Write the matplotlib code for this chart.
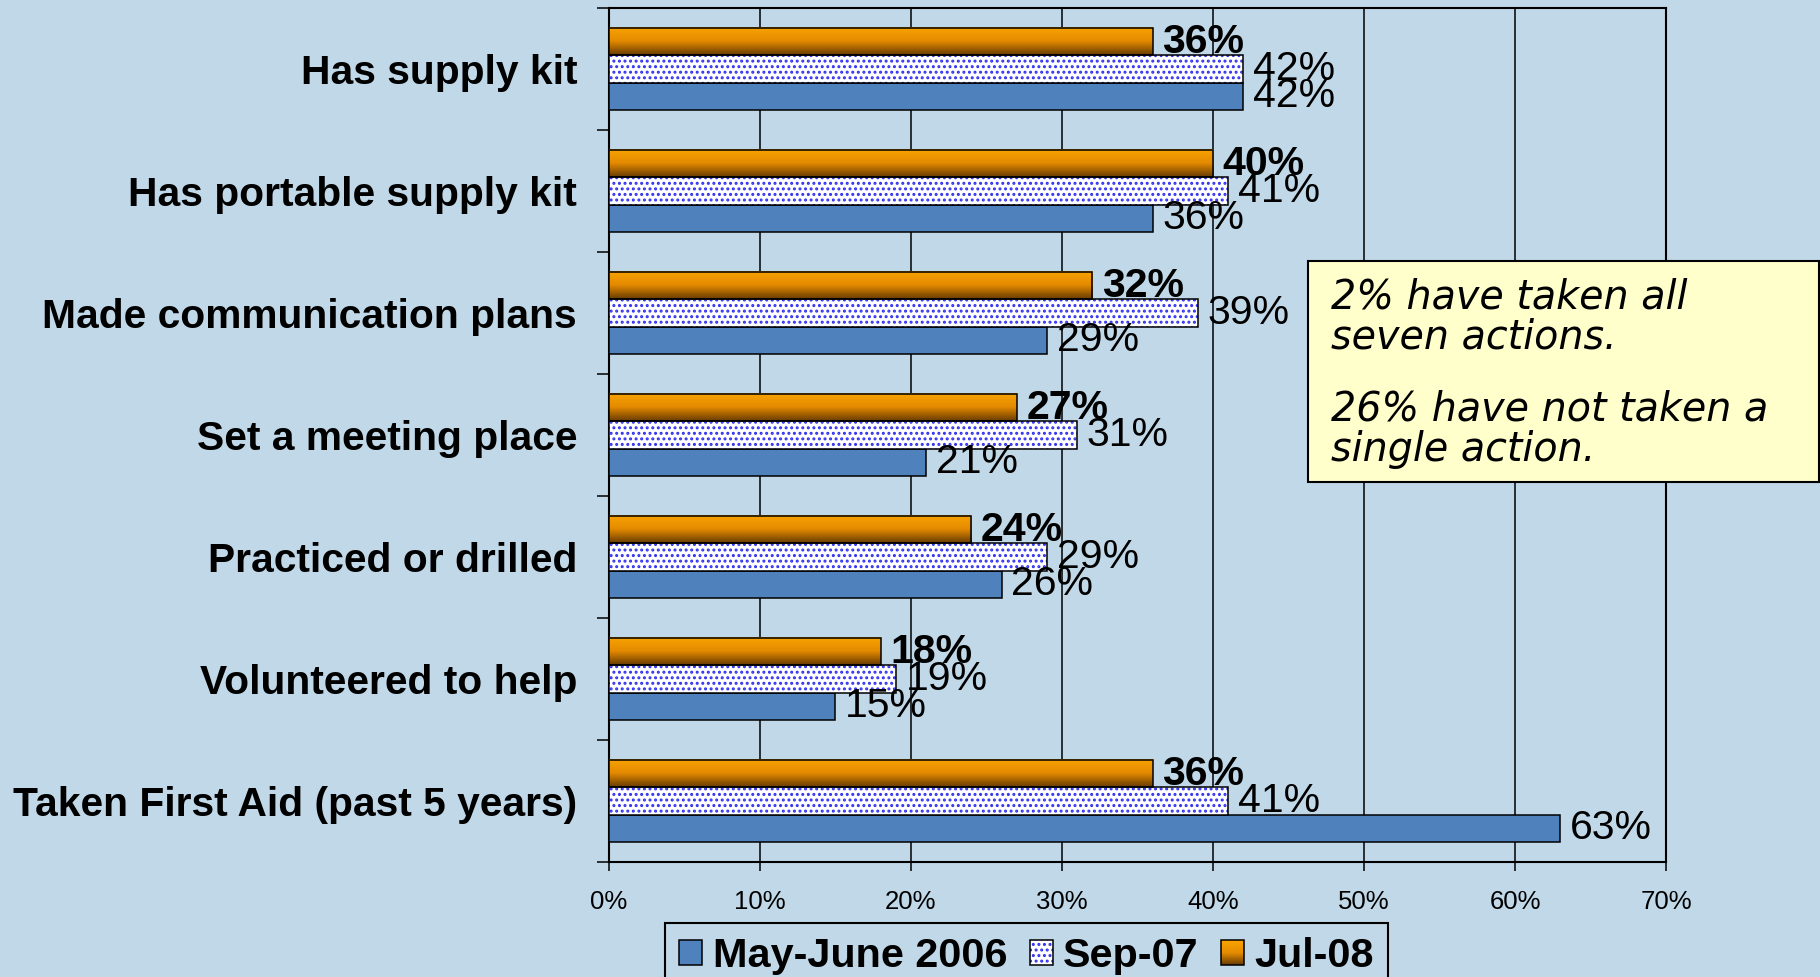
import numpy as np
import matplotlib.pyplot as plt
from matplotlib.patches import Rectangle, Patch
from matplotlib.legend_handler import HandlerBase
from matplotlib.colors import LinearSegmentedColormap

plt.rcParams['font.family'] = ['Liberation Sans', 'DejaVu Sans']
plt.rcParams['hatch.linewidth'] = 1.4

categories = ["Has supply kit", "Has portable supply kit", "Made communication plans",
              "Set a meeting place", "Practiced or drilled", "Volunteered to help",
              "Taken First Aid (past 5 years)"]
may06 = [42, 36, 29, 21, 26, 15, 63]
sep07 = [42, 41, 39, 31, 29, 19, 41]
jul08 = [36, 40, 32, 27, 24, 18, 36]
series_names = ["May-June 2006", "Sep-07", "Jul-08"]
x_ticks = [0, 10, 20, 30, 40, 50, 60, 70]
note_lines = ["2% have taken all\nseven actions.", "26% have not taken a\nsingle action."]

bg = '#C1D8E8'
blue = '#4F81BD'
dot_blue = '#3030F0'
orange_cmap = LinearSegmentedColormap.from_list('org', ['#F9A300', '#E38A00', '#6A3C00'])


class GradientKey:
    pass


class GradientHandler(HandlerBase):
    # legend swatch with the same vertical orange gradient
    def create_artists(self, legend, orig_handle, xdescent, ydescent,
                       width, height, fontsize, trans):
        n = 24
        cols = orange_cmap(np.linspace(0, 1, n))
        arts = []
        for k in range(n):
            arts.append(Rectangle((-xdescent, -ydescent + height * (n - 1 - k) / n),
                                  width, height / n, facecolor=cols[k],
                                  edgecolor='none', transform=trans))
        arts.append(Rectangle((-xdescent, -ydescent), width, height, fill=False,
                              edgecolor='black', lw=1.1, transform=trans))
        return arts


fig = plt.figure(figsize=(18.2, 9.77), dpi=100, facecolor=bg)
ax = fig.add_axes([0.3346, 0.1177, 0.5808, 0.8741])
ax.set_facecolor(bg)

y = np.arange(len(categories))
h = 0.222

ax.barh(y + h, may06, h, color=blue, edgecolor='black', lw=1.1, zorder=3)
ax.barh(y, sep07, h, color='white', edgecolor=dot_blue, hatch='...', lw=0, zorder=3)
ax.barh(y, sep07, h, fill=False, edgecolor='black', lw=1.1, zorder=4)
grad = orange_cmap(np.linspace(0, 1, 64))[:, None, :]
for yi, v in zip(y, jul08):
    ax.imshow(grad, extent=(0, v, yi - 0.5 * h, yi - 1.5 * h), aspect='auto',
              zorder=3, interpolation='bilinear')
ax.barh(y - h, jul08, h, fill=False, edgecolor='black', lw=1.1, zorder=4)

for yi, a, b, c in zip(y, may06, sep07, jul08):
    ax.annotate(f'{a}%', (a, yi + h), xytext=(7, 0), textcoords='offset points',
                va='center', ha='left', fontsize=29.5, zorder=6)
    ax.annotate(f'{b}%', (b, yi), xytext=(7, 0), textcoords='offset points',
                va='center', ha='left', fontsize=29.5, zorder=6)
    ax.annotate(f'{c}%', (c, yi - h), xytext=(7, 0), textcoords='offset points',
                va='center', ha='left', fontsize=29.5, fontweight='bold', zorder=6)

ax.set_xlim(0, 70)
ax.set_xticks(x_ticks)
ax.set_xticklabels([f'{t}%' for t in x_ticks])
ax.tick_params(axis='x', direction='out', length=6.5, width=1.1, pad=14, labelsize=18.5)
ax.grid(axis='x', color='black', lw=1.1)
ax.set_axisbelow(True)

ax.set_yticks(np.arange(-0.5, len(categories)))
ax.set_yticklabels([])
ax.set_yticks(y, minor=True)
ax.set_yticklabels(categories, minor=True, fontweight='bold', fontsize=29.3)
ax.tick_params(axis='y', which='major', direction='out', length=8.6, width=1.1)
ax.tick_params(axis='y', which='minor', length=0, pad=23)
ax.set_ylim(len(categories) - 0.5, -0.5)
for s in ax.spines.values():
    s.set_color('black')
    s.set_linewidth(1.5)

# note box
fig.add_artist(Rectangle((0.7187, 0.5067), 0.2808, 0.2262, transform=fig.transFigure,
                         facecolor='#FFFFCC', edgecolor='black', lw=1.5, zorder=10))
fig.text(1331 / 1820, 0.7164, note_lines[0], ha='left', va='top', fontsize=28.5,
         style='italic', family='DejaVu Sans', linespacing=1.05, zorder=11)
fig.text(1331 / 1820, 0.6018, note_lines[1], ha='left', va='top', fontsize=28.5,
         style='italic', family='DejaVu Sans', linespacing=1.05, zorder=11)

handles = [Patch(facecolor=blue, edgecolor='black', lw=1.1),
           (Patch(facecolor='white', edgecolor=dot_blue, hatch='...', lw=0),
            Patch(fill=False, edgecolor='black', lw=1.1)),
           GradientKey()]
leg = fig.legend(handles, series_names, loc='upper left',
                 bbox_to_anchor=(665 / 1820, 1 - 923 / 977), ncol=3,
                 frameon=True, fancybox=False, edgecolor='black', facecolor=bg,
                 framealpha=1, prop={'weight': 'bold', 'size': 29.8},
                 handlelength=0.55, handleheight=0.55, handletextpad=0.25,
                 columnspacing=0.55, borderpad=0.35, borderaxespad=0,
                 handler_map={GradientKey: GradientHandler()})
leg.get_frame().set_linewidth(1.5)

fig.savefig('out.png', dpi=100, facecolor=bg)
